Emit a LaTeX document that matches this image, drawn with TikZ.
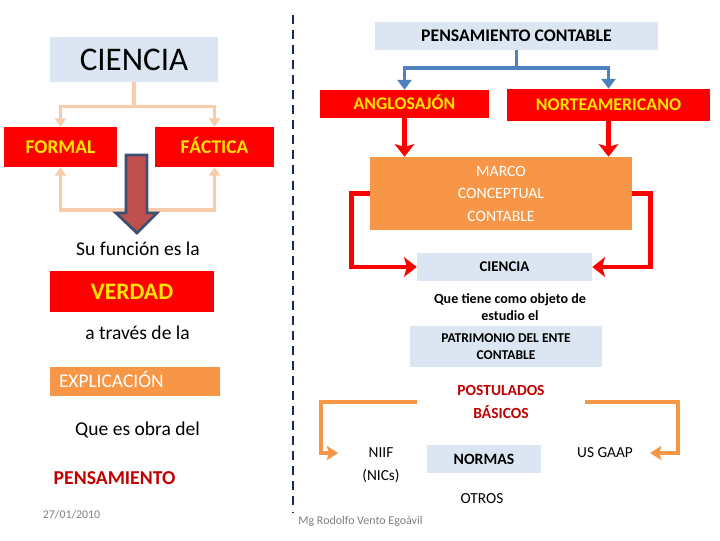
\documentclass[tikz,border=0pt]{standalone}
\usepackage{fontspec}
\setmainfont{Carlito}
\usepackage{tikz}
\usetikzlibrary{arrows.meta, positioning, calc}
\definecolor{ccPale}{RGB}{220,230,242}
\definecolor{ccRed}{RGB}{255,0,0}
\definecolor{ccYellow}{RGB}{255,230,0}
\definecolor{ccOrange}{RGB}{247,150,70}
\definecolor{ccPeach}{RGB}{248,203,170}
\definecolor{ccBlue}{RGB}{79,129,189}
\definecolor{ccDark}{RGB}{192,0,0}
\definecolor{ccBrick}{RGB}{192,80,77}
\definecolor{ccSlate}{RGB}{62,80,112}
\definecolor{ccNavy}{RGB}{20,42,92}
\definecolor{ccGray}{RGB}{127,127,127}
\newcommand{\fsz}[2]{\fontsize{#1}{#2}\selectfont}

\begin{document}
\begin{tikzpicture}[x=0.025cm,y=-0.025cm,
  wh/.style 2 args={minimum width=#1*0.025cm,minimum height=#2*0.025cm},
  palebox/.style={fill=ccPale,inner sep=0pt,anchor=center},
  redbox/.style={fill=ccRed,text=ccYellow,inner sep=0pt,anchor=center},
  orbox/.style={fill=ccOrange,text=white,inner sep=0pt,anchor=center},
  txt/.style={inner sep=0pt,align=center},
  peach/.style={-{Triangle[length=6pt,width=8pt]},line width=2.2pt,draw=ccPeach},
  bluearr/.style={-{Triangle[length=7pt,width=10pt]},line width=2.8pt,draw=ccBlue},
  redarr/.style={-{Stealth[length=9pt,width=14pt,inset=2pt]},line width=3.5pt,draw=ccRed},
  orarr/.style={-{Stealth[length=8pt,width=10pt,inset=1.5pt]},line width=2.8pt,draw=ccOrange},
  bigarr/.style={fill=ccBrick,draw=ccSlate,line width=2pt,line join=miter},
  divider/.style={draw=ccNavy,line width=2.1pt,dash pattern=on 6.4pt off 4.3pt}]
\useasboundingbox (0,0) rectangle (720,540);

% ===== LEFT — ciencia =====
\node[palebox,wh={168}{45},font=\fsz{23.5}{28}] (ciencia) at (134,59.5) {CIENCIA};
\node[redbox,wh={113}{40},font=\fsz{13.8}{16}\bfseries] (formal) at (60.5,147) {FORMAL};
\node[redbox,wh={119}{40},font=\fsz{13.8}{16}\bfseries] (factica) at (214.5,147) {F\smash{Á}CTICA};

\draw[peach] (ciencia.south) -- ++(0,24) -| (formal.north);
\draw[peach] (ciencia.south) -- ++(0,24) -| (factica.north);
\coordinate (loop) at (137,210);
\draw[peach] (loop) -| (formal.south);
\draw[peach] (loop) -| (factica.south);

% big arrow down
\coordinate (tip) at (137,233);
\draw[bigarr] (tip) -- ++(20,-20) -- ++(-10,0) -- ++(0,-58) -- ++(-21,0)
   -- ++(0,58) -- ++(-10,0) -- cycle;

\node[txt,font=\fsz{13.9}{16}] (funcion) at (138,249) {Su función es la};
\node[redbox,wh={164}{41},font=\fsz{16.8}{20}\bfseries] (verdad) at (132,291.5) {VERDAD};
\node[txt,font=\fsz{13.9}{16}] (traves) at (137.5,333) {a través de la};
\node[orbox,minimum height=29*0.025cm,text width=152*0.025cm,inner xsep=9*0.025cm,
      align=left,font=\fsz{13.8}{16}] (explic) at (135,381.5) {EXPLICACI\smash{Ó}N};
\node[txt,font=\fsz{13.9}{16}] (obra) at (137.5,430) {Que es obra del};
\node[txt,text=ccDark,font=\fsz{14}{16}\bfseries] (pensam) at (114.5,478) {PENSAMIENTO};
\node[txt,text=ccGray,font=\fsz{8.4}{10}] (fecha) at (71.5,515) {27/01/2010};

% ===== divider =====
\draw[divider] (293,15) -- (293,512);

% ===== RIGHT — pensamiento contable =====
\node[palebox,wh={283}{28},font=\fsz{12.6}{15}\bfseries] (pcont) at (516.5,36) {PENSAMIENTO CONTABLE};
\node[redbox,wh={169}{28},font=\fsz{12.6}{15}\bfseries] (anglo) at (404.5,104) {ANGLOSAJ\smash{Ó}N};
\node[redbox,wh={203}{32},font=\fsz{12.7}{15}\bfseries] (norte) at (608.5,105) {NORTEAMERICANO};

\draw[bluearr] (pcont.south) -- ++(0,18) -| (anglo.north);
\draw[bluearr] (pcont.south) -- ++(0,18) -| (norte.north);

\node[orbox,wh={262}{73},align=center,font=\fsz{11.2}{16}] (marco) at (501,193.5)
   {MARCO\\CONCEPTUAL\\CONTABLE};
\draw[redarr] (anglo.south) -- (anglo.south |- marco.north);
\draw[redarr] (norte.south) -- (norte.south |- marco.north);

\node[palebox,wh={175}{28},font=\fsz{10.6}{13}\bfseries] (cienciab) at (504.5,267) {CIENCIA};
\draw[redarr] (marco.west) -- ++(-18,0) |- (cienciab.west);
\draw[redarr] (marco.east) -- ++(18,0) |- (cienciab.east);

\node[txt,font=\fsz{10}{12}\bfseries] (objeto) at (510,307.5) {Que tiene como objeto de\\estudio el};
\node[palebox,wh={192}{41},align=center,font=\fsz{9.6}{12}\bfseries] (patrim) at (506,346.5)
   {PATRIMONIO DEL ENTE\\CONTABLE};
\node[txt,text=ccDark,minimum width=168*0.025cm,font=\fsz{11}{16.3}\bfseries] (postul) at (501,402)
   {POSTULADOS\\BÁSICOS};

% normas
\node[txt,font=\fsz{10.9}{16.5}] (niif) at (381,465.5) {NIIF\\(NICs)};
\node[palebox,wh={114}{28},font=\fsz{11.2}{13}\bfseries] (normas) at (484,459) {NORMAS};
\node[txt,font=\fsz{10.9}{13}] (usgaap) at (605,453) {US GAAP};
\node[txt,font=\fsz{10.9}{13}] (otros) at (482,499) {OTROS};

\draw[orarr] (postul.west) -- ++(-96,0) |- ($(niif.west)+(-24,-12.5)$);
\draw[orarr] (postul.east) -- ++(93,0) |- ($(usgaap.east)+(17,0)$);

\node[txt,text=ccGray,font=\fsz{8.5}{10}] (autor) at (360.5,521) {Mg Rodolfo Vento Egoávil};
\end{tikzpicture}
\end{document}
